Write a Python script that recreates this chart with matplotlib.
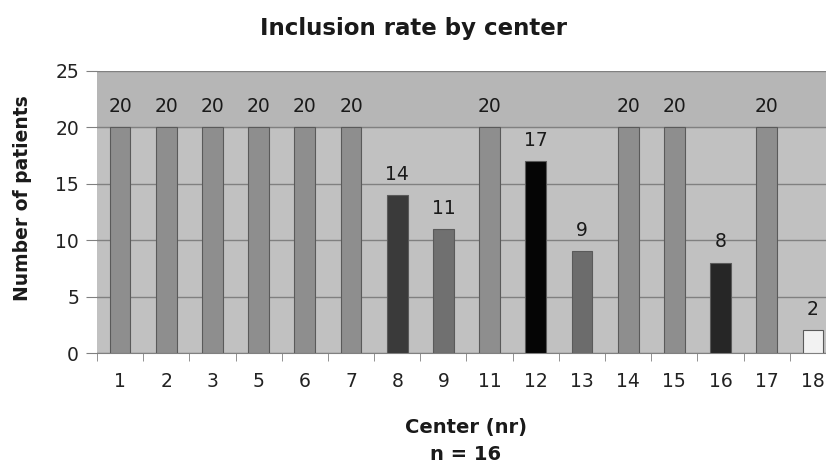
import matplotlib
matplotlib.use("Agg")
import matplotlib.pyplot as plt
import numpy as np

plt.rcParams['font.family'] = ['DejaVu Sans']

centers = ["1", "2", "3", "5", "6", "7", "8", "9", "11", "12", "13", "14", "15", "16", "17", "18"]
patients = [20, 20, 20, 20, 20, 20, 14, 11, 20, 17, 9, 20, 20, 8, 20, 2]
bar_colors = ["#8e8e8e"] * 6 + ["#3a3a3a", "#707070", "#8e8e8e", "#050505",
                                 "#6c6c6c", "#8e8e8e", "#8e8e8e", "#262626",
                                 "#8e8e8e", "#f2f2f2"]

fig = plt.figure(figsize=(8.26, 4.65), dpi=100)
ax = fig.add_axes([97 / 826, 112 / 465, 739 / 826, 282 / 465])

x = np.arange(len(centers))
ax.set_facecolor("#c1c1c1")
ax.axhspan(20, 25, color="#b6b6b6", zorder=0)

ax.bar(x, patients, width=0.45, color=bar_colors, edgecolor="#5a5a5a",
       linewidth=0.8, zorder=3)

for xi, v in zip(x, patients):
    ax.annotate(str(v), (xi, v), xytext=(0, 15), textcoords="offset points",
                ha="center", va="center", fontsize=13.5, color="#1a1a1a",
                zorder=4)

ax.set_xlim(-0.5, len(centers) - 0.5)
ax.set_ylim(0, 25)
ax.set_yticks(np.arange(0, 26, 5))
ax.yaxis.grid(True, color="#808080", linewidth=1.0, zorder=1)
ax.set_axisbelow(True)

ax.set_xticks(x)
ax.set_xticklabels(centers, fontsize=13.5, color="#222222")
ax.set_xticks(np.arange(-0.5, len(centers), 1.0), minor=True)
ax.tick_params(axis="x", which="major", length=0, pad=14)
ax.tick_params(axis="x", which="minor", length=6, color="#808080")
ax.tick_params(axis="y", length=8, color="#808080", labelsize=13.5,
               labelcolor="#222222", pad=5)

for s in ["top", "right", "left"]:
    ax.spines[s].set_visible(False)
ax.spines["bottom"].set_color("#808080")

ax.set_ylabel("Number of patients", fontsize=13.5, fontweight="bold",
              color="#1a1a1a")
ax.yaxis.set_label_coords(-0.088, 0.55)
ax.set_xlabel("Center (nr)", fontsize=14, fontweight="bold", color="#1a1a1a")
ax.xaxis.set_label_coords(0.5, -(427 - 353) / 282, transform=ax.transAxes)
ax.xaxis.label.set_va("center")
fig.text(466 / 826, 1 - 454 / 465, "n = 16", ha="center", va="center",
         fontsize=14, fontweight="bold", color="#1a1a1a")
fig.text(0.5, 1 - 28 / 465, "Inclusion rate by center", ha="center",
         va="center", fontsize=16.5, fontweight="bold", color="#1a1a1a")

fig.savefig("out.png", dpi=100)
